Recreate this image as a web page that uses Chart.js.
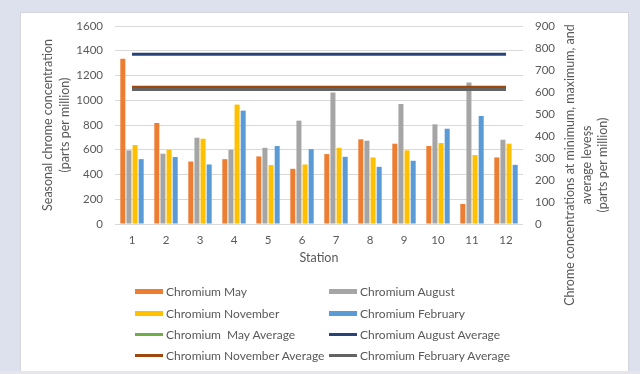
<!DOCTYPE html>
<html>
<head>
<meta charset="utf-8">
<script src="https://cdn.jsdelivr.net/npm/chart.js@4"></script>
<style>
  html, body { margin: 0; padding: 0; }
  body { width: 640px; height: 374px; position: relative; overflow: hidden; background: #dde1ee; font-family: Lato, "Open Sans", sans-serif; }
  #panel { position: absolute; left: 20px; top: 12px; width: 609px; height: 359px; background: #ffffff; border-left: 1px solid #d4d6dc; border-top: 1px solid #d4d6dc; border-right: 1px solid #d4d6dc; box-sizing: border-box; }
  #bottomStrip { position: absolute; left: 0; top: 371px; width: 640px; height: 3px; background: #e6e6ea; }
  #c { position: absolute; left: 0; top: 0; }
  #legend { position: absolute; left: 0; top: 0; width: 640px; height: 374px; pointer-events: none; }
  .item { position: absolute; height: 16px; display: flex; align-items: center; white-space: pre; font-size: 12px; color: #595959; }
  .mark { width: 28px; margin-right: 3px; }
</style>
</head>
<body>
<div id="panel"></div>
<div id="bottomStrip"></div>
<canvas id="c" width="640" height="374"></canvas>
<div id="legend"></div>
<script>
// ---- data ----
const stations = ['1','2','3','4','5','6','7','8','9','10','11','12'];
const chromiumMay      = [1335, 816, 505, 524, 546, 446, 565, 684, 649, 630, 162, 538];
const chromiumAugust   = [595, 568, 697, 600, 616, 835, 1062, 673, 970, 805, 1143, 681];
const chromiumNovember = [638, 600, 689, 965, 476, 481, 616, 538, 595, 654, 557, 649];
const chromiumFebruary = [524, 541, 481, 916, 630, 605, 543, 462, 511, 770, 873, 478];
const mayAverage      = [617, 617, 617, 617, 617, 617, 617, 617, 617, 617, 617, 617];
const augustAverage   = [772, 772, 772, 772, 772, 772, 772, 772, 772, 772, 772, 772];
const novemberAverage = [622, 622, 622, 622, 622, 622, 622, 622, 622, 622, 622, 622];
const februaryAverage = [611, 611, 611, 611, 611, 611, 611, 611, 611, 611, 611, 611];
const leftTicks  = [0, 200, 400, 600, 800, 1000, 1200, 1400, 1600];
const rightTicks = [0, 100, 200, 300, 400, 500, 600, 700, 800, 900];
const seriesLabels = ['Chromium May', 'Chromium August', 'Chromium November', 'Chromium February',
                      'Chromium  May Average', 'Chromium August Average', 'Chromium November Average', 'Chromium February Average'];
const leftTitle  = ['Seasonal chrome concentration', '(parts per million)'];
const rightTitle = ['Chrome concentrations at minimum, maximum, and', 'average leveşs', '(parts per million)'];
const xTitle = 'Station';

const colors = ['#ED7D31', '#A5A5A5', '#FFC000', '#5B9BD5', '#70AD47', '#264478', '#9E480E', '#636363'];
const FONT = 'Lato, "Open Sans", sans-serif';
const TXT = '#595959';

function bar(i, data) {
  return { type: 'bar', label: seriesLabels[i], data: data, backgroundColor: colors[i], borderWidth: 0,
           yAxisID: 'y', order: 10 + i, categoryPercentage: 0.72, barPercentage: 0.82 };
}
function line(i, data, ord) {
  return { type: 'line', label: seriesLabels[i], data: data, borderColor: colors[i], backgroundColor: colors[i],
           borderWidth: 3, pointRadius: 0, pointHoverRadius: 0, yAxisID: 'y1', order: ord, tension: 0, borderCapStyle: 'butt' };
}

const titlesPlugin = {
  id: 'titles',
  afterDraw(chart) {
    const ctx = chart.ctx;
    const area = chart.chartArea;
    ctx.save();
    ctx.fillStyle = TXT;
    ctx.textAlign = 'center';
    ctx.textBaseline = 'middle';
    ctx.font = '12.5px ' + FONT;
    const lx = [48, 65];
    leftTitle.forEach((t, k) => {
      ctx.save(); ctx.translate(lx[k], (area.top + area.bottom) / 2); ctx.rotate(-Math.PI / 2);
      ctx.fillText(t, 0, 0); ctx.restore();
    });
    const rx = [570, 587, 603];
    rightTitle.forEach((t, k) => {
      ctx.save(); ctx.translate(rx[k], 165); ctx.rotate(-Math.PI / 2);
      ctx.fillText(t, 0, 0); ctx.restore();
    });
    ctx.fillText(xTitle, 319, 258);
    ctx.restore();
  }
};

const plain = v => String(v);

const chart = new Chart(document.getElementById('c'), {
  data: {
    labels: stations,
    datasets: [
      bar(0, chromiumMay), bar(1, chromiumAugust), bar(2, chromiumNovember), bar(3, chromiumFebruary),
      line(4, mayAverage, 3), line(5, augustAverage, 2), line(6, novemberAverage, 1), line(7, februaryAverage, 0)
    ]
  },
  options: {
    responsive: false,
    animation: false,
    devicePixelRatio: 1,
    layout: { padding: { left: 0, right: 0, top: 26, bottom: 110 } },
    plugins: { legend: { display: false }, tooltip: { enabled: false } },
    scales: {
      x: {
        type: 'category', offset: true,
        grid: { display: false, drawTicks: false }, border: { display: false },
        ticks: { color: TXT, font: { family: FONT, size: 11.5 }, padding: 9, maxRotation: 0 },
        afterFit(s) { s.height = 40; }
      },
      y: {
        position: 'left', min: leftTicks[0], max: leftTicks[leftTicks.length - 1],
        afterBuildTicks(s) { s.ticks = leftTicks.map(v => ({ value: v })); },
        grid: { color: '#d9d9d9', drawTicks: false, lineWidth: 1 }, border: { display: false },
        ticks: { color: TXT, font: { family: FONT, size: 11.5 }, padding: 12, callback: plain },
        afterFit(s) { s.width = 115; }
      },
      y1: {
        position: 'right', min: rightTicks[0], max: rightTicks[rightTicks.length - 1],
        afterBuildTicks(s) { s.ticks = rightTicks.map(v => ({ value: v })); },
        grid: { display: false, drawTicks: false }, border: { display: false },
        ticks: { color: TXT, font: { family: FONT, size: 11.5 }, padding: 12, callback: plain },
        afterFit(s) { s.width = 117; }
      }
    }
  },
  plugins: [titlesPlugin]
});

// ---- legend (HTML, from the datasets) ----
const legendPos = [
  [135, 291], [329, 291],
  [135, 313], [329, 313],
  [135, 334], [329, 334],
  [135, 355], [329, 355]
];
const legend = document.getElementById('legend');
chart.data.datasets.forEach((ds, i) => {
  const it = document.createElement('div');
  it.className = 'item';
  it.style.left = legendPos[i][0] + 'px';
  it.style.top = (legendPos[i][1] - 8) + 'px';
  const m = document.createElement('span');
  m.className = 'mark';
  m.style.height = ds.type === 'bar' ? '5px' : '3px';
  m.style.background = colors[i];
  const t = document.createElement('span');
  t.textContent = ds.label;
  it.appendChild(m); it.appendChild(t);
  legend.appendChild(it);
});
</script>
</body>
</html>
